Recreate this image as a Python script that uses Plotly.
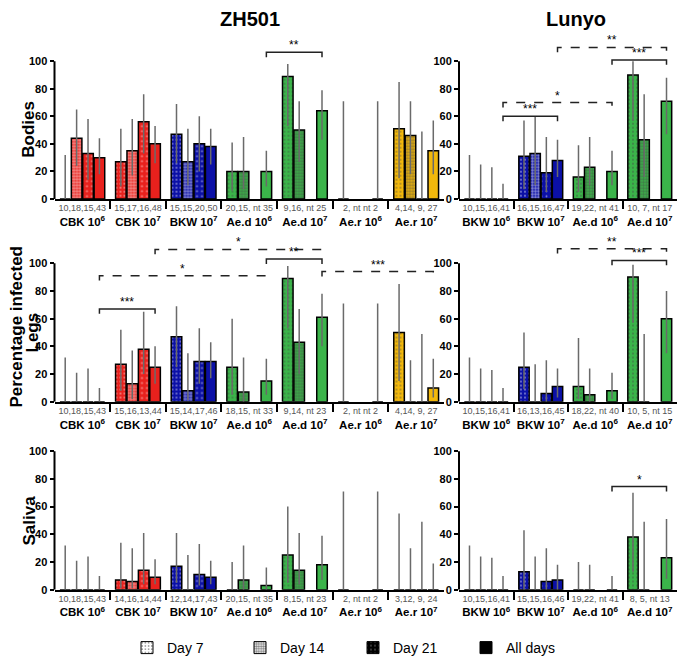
import plotly.graph_objects as go

# ---- data ----
zh_groups = ["CBK 10<sup>6</sup>", "CBK 10<sup>7</sup>", "BKW 10<sup>7</sup>", "Ae.d 10<sup>6</sup>",
             "Ae.d 10<sup>7</sup>", "Ae.r 10<sup>6</sup>", "Ae.r 10<sup>7</sup>"]
lu_groups = ["BKW 10<sup>6</sup>", "BKW 10<sup>7</sup>", "Ae.d 10<sup>6</sup>", "Ae.d 10<sup>7</sup>"]
days = ["Day 7", "Day 14", "Day 21", "All days"]

# rows = Day 7, Day 14, Day 21, All days ; None = not tested
zh_bodies_n = ["10,18,15,43", "15,17,16,48", "15,15,20,50", "20,15, nt 35", "9,16, nt 25", "2, nt nt 2", "4,14, 9, 27"]
zh_bodies = [[0, 27, 47, 20, 89, 0, 51],
             [44, 35, 27, 20, 50, None, 46],
             [33, 56, 40, None, None, None, 0],
             [30, 40, 38, 20, 64, 0, 35]]
zh_bodies_lo = [[0, 9, 26, 6, 53, 0, 15],
                [24, 17, 10, 7, 27, None, 18],
                [14, 33, 20, None, None, None, 0],
                [18, 26, 25, 9, 43, 0, 18]]
zh_bodies_hi = [[32, 51, 69, 41, 98, 71, 85],
                [65, 58, 51, 45, 71, None, 71],
                [58, 76, 60, None, None, None, 49],
                [44, 53, 51, 35, 79, 71, 57]]

lu_bodies_n = ["10,15,16,41", "16,15,16,47", "19,22, nt 41", "10, 7, nt 17"]
lu_bodies = [[0, 31, 16, 90], [0, 33, 23, 43], [0, 19, None, None], [0, 28, 20, 71]]
lu_bodies_lo = [[0, 7, 5, 57], [0, 10, 10, 16], [0, 5, None, None], [0, 16, 10, 47]]
lu_bodies_hi = [[32, 57, 39, 100], [25, 60, 45, 76], [23, 45, None, None], [11, 43, 35, 88]]

zh_legs_n = ["10,18,15,43", "15,16,13,44", "15,14,17,46", "18,15, nt 33", "9,14, nt 23", "2, nt nt 2", "4,14, 9, 27"]
zh_legs = [[0, 27, 47, 25, 89, 0, 50],
           [0, 13, 8, 7, 43, None, 0],
           [0, 38, 29, None, None, None, 0],
           [0, 25, 29, 15, 61, 0, 10]]
zh_legs_lo = [[0, 8, 25, 5, 53, 0, 15],
              [0, 2, 1, 0, 20, None, 0],
              [0, 20, 13, None, None, None, 0],
              [0, 13, 17, 5, 40, 0, 3]]
zh_legs_hi = [[32, 52, 69, 60, 98, 71, 85],
              [21, 37, 35, 32, 67, None, 30],
              [24, 65, 53, None, None, None, 49],
              [10, 40, 43, 31, 78, 71, 31]]

lu_legs_n = ["10,15,16,41", "16,13,16,45", "18,22, nt 40", "10, 5, nt 15"]
lu_legs = [[0, 25, 11, 90], [0, 0, 5, 0], [0, 6, None, None], [0, 11, 8, 60]]
lu_legs_lo = [[0, 9, 2, 57], [0, 0, 0, 0], [0, 0, None, None], [0, 3, 2, 35]]
lu_legs_hi = [[32, 50, 46, 99], [24, 27, 24, 49], [23, 30, None, None], [10, 24, 21, 80]]

zh_saliva_n = ["10,18,15,43", "14,16,14,44", "12,14,17,43", "20,15, nt 35", "8,15, nt 23", "2, nt nt 2", "3,12, 9, 24"]
zh_saliva = [[0, 7, 17, 0, 25, 0, 0],
             [0, 6, 0, 7, 14, None, 0],
             [0, 14, 11, None, None, None, 0],
             [0, 9, 9, 3, 18, 0, 0]]
zh_saliva_lo = [[0, 1, 5, 0, 5, 0, 0],
                [0, 1, 0, 0, 4, None, 0],
                [0, 4, 3, None, None, None, 0],
                [0, 4, 4, 0, 7, 0, 0]]
zh_saliva_hi = [[32, 34, 41, 20, 60, 71, 55],
                [21, 30, 25, 32, 41, None, 30],
                [24, 41, 33, None, None, None, 49],
                [10, 22, 21, 16, 39, 71, 19]]

lu_saliva_n = ["10,15,16,41", "15,15,16,46", "19,22, nt 41", "8, 5, nt 13"]
lu_saliva = [[0, 13, 0, 38], [0, 0, 0, 0], [0, 6, None, None], [0, 7, 0, 23]]
lu_saliva_lo = [[0, 0, 0, 13], [0, 0, 0, 0], [0, 0, None, None], [0, 0, 0, 8]]
lu_saliva_hi = [[32, 43, 20, 70], [24, 24, 18, 49], [23, 30, None, None], [10, 18, 10, 51]]

# significance brackets: panel, from group, to group, height, label, dashed
brackets = [(0, 3, 4, 106.5, "**", False),
            (1, 0, 1, 60, "***", False), (1, 0, 2, 70, "*", True),
            (1, 2, 3, 101, "***", False), (1, 1, 3, 110, "**", True),
            (2, 0, 1, 67, "***", False), (2, 0, 3, 91, "*", True),
            (2, 1, 4, 110, "*", True), (2, 3, 4, 103, "**", False),
            (2, 4, 6, 94, "***", True),
            (3, 1, 3, 110.5, "**", True), (3, 2, 3, 102, "***", False),
            (5, 2, 3, 74.5, "*", False)]

RED, BLUE, GREEN, GOLD = "#e8211d", "#0b10a6", "#3bb44a", "#f2b80c"
zh_colors = [RED, RED, BLUE, GREEN, GREEN, GOLD, GOLD]
lu_colors = [BLUE, BLUE, GREEN, GREEN]

FONT = "Liberation Sans, Arial, sans-serif"

panels = [
    (zh_groups, zh_colors, zh_bodies_n, zh_bodies, zh_bodies_lo, zh_bodies_hi),
    (lu_groups, lu_colors, lu_bodies_n, lu_bodies, lu_bodies_lo, lu_bodies_hi),
    (zh_groups, zh_colors, zh_legs_n, zh_legs, zh_legs_lo, zh_legs_hi),
    (lu_groups, lu_colors, lu_legs_n, lu_legs, lu_legs_lo, lu_legs_hi),
    (zh_groups, zh_colors, zh_saliva_n, zh_saliva, zh_saliva_lo, zh_saliva_hi),
    (lu_groups, lu_colors, lu_saliva_n, lu_saliva, lu_saliva_lo, lu_saliva_hi),
]

# the page body has an 8px margin, so the figure sits at (8, 8) and must fit inside the window
OFF, W, H = 8, 669, 656


def fx(px):
    return (px - OFF) / W


def fy(py):
    return 1 - (py - OFF) / H


x_dom = [[fx(54.5), fx(444)], [fx(459), 1.0]]
y_dom = [[fy(201), fy(34)], [fy(406), fy(238)], [fy(596), fy(428)]]

SLOT = 0.205


def pos(g, i):
    return g + (i - 1.5) * SLOT


def pattern(day, colors):
    if day == 0:
        return dict(shape=".", fgcolor=colors, bgcolor="white", size=4, solidity=0.18)
    if day == 1:
        return dict(shape=".", fgcolor=colors, bgcolor="white", size=3, solidity=0.6)
    if day == 2:
        return dict(shape=".", fgcolor="white", bgcolor=colors, size=5, solidity=0.12)
    return dict(shape="", fgcolor=colors, bgcolor=colors)


fig = go.Figure()
layout = dict(width=W, height=H, margin=dict(l=0, r=0, t=0, b=0),
              plot_bgcolor="white", paper_bgcolor="white", barmode="overlay",
              font=dict(family=FONT, color="black"))
shapes = []
annotations = []

for p, (groups, colors, nlab, vals, lo, hi) in enumerate(panels):
    k = "" if p == 0 else str(p + 1)
    ng = len(groups)
    for d in range(4):
        xs = [pos(g, d) for g in range(ng)]
        up = [None if v is None else h - v for v, h in zip(vals[d], hi[d])]
        dn = [None if v is None else v - l for v, l in zip(vals[d], lo[d])]
        fig.add_trace(go.Bar(
            x=xs, y=vals[d], width=0.19, xaxis="x" + k, yaxis="y" + k,
            showlegend=False, name=days[d],
            marker=dict(color=colors, line=dict(color="black", width=1.5),
                        pattern=pattern(d, colors)),
            error_y=dict(type="data", symmetric=False, array=up, arrayminus=dn,
                         width=0, thickness=1.5, color="#6a6a6a"),
        ))
    ticktext = ["<span style='font-size:9px;color:#555555'>%s</span><br><b>%s</b>" % (n, g)
                for n, g in zip(nlab, groups)]
    layout["xaxis" + k] = dict(
        domain=x_dom[p % 2], anchor="y" + k, range=[-0.5, ng - 0.5],
        showline=True, linewidth=2, linecolor="black", showgrid=False, zeroline=False,
        tickmode="array", tickvals=list(range(ng)), ticktext=ticktext, ticks="",
        ticklabelstandoff=-4,
        tickfont=dict(size=11.5, family=FONT, color="black"),
        minor=dict(tickmode="array", tickvals=[g + 0.5 for g in range(ng - 1)],
                   ticks="outside", ticklen=8, tickwidth=1.5, tickcolor="black"),
    )
    layout["yaxis" + k] = dict(
        domain=y_dom[p // 2], anchor="x" + k, range=[0, 120],
        showline=False, showgrid=False, zeroline=False,
        tickmode="array", tickvals=[0, 20, 40, 60, 80, 100],
        ticks="outside", ticklen=4, tickwidth=1.5, tickcolor="black",
        tickfont=dict(size=11, family=FONT, color="black", weight="bold"),
    )
    shapes.append(dict(type="line", xref="x" + k + " domain", yref="y" + k,
                       x0=0, x1=0, y0=0, y1=100, line=dict(color="black", width=2)))

for p, g0, g1, yb, lab, dashed in brackets:
    k = "" if p == 0 else str(p + 1)
    x0, x1 = pos(g0, 3), pos(g1, 3)
    shapes.append(dict(type="path", xref="x" + k, yref="y" + k,
                       path="M %f,%f L %f,%f L %f,%f L %f,%f" % (x0, yb - 3.5, x0, yb, x1, yb, x1, yb - 3.5),
                       line=dict(color="#222222", width=1.5, dash="dash" if dashed else "solid")))
    annotations.append(dict(xref="x" + k, yref="y" + k, x=(x0 + x1) / 2, y=yb, text=lab,
                            showarrow=False, xanchor="center", yanchor="bottom", yshift=-2,
                            font=dict(size=12, family=FONT, color="black")))

# titles and row labels
for txt, x in [("ZH501", 250), ("Lunyo", 576)]:
    annotations.append(dict(xref="paper", yref="paper", x=fx(x), y=fy(19), text="<b>%s</b>" % txt,
                            showarrow=False, xanchor="center", yanchor="middle",
                            font=dict(size=20, family=FONT, color="black")))
for txt, x, y in [("Bodies", 29, 131), ("Percentage infected", 17, 330), ("Legs", 32, 336), ("Saliva", 29, 526)]:
    annotations.append(dict(xref="paper", yref="paper", x=fx(x), y=fy(y), text="<b>%s</b>" % txt,
                            textangle=-90, showarrow=False, xanchor="center", yanchor="middle",
                            font=dict(size=17, family=FONT, color="black")))

# legend entries (black versions of the day patterns)
for d in range(4):
    fig.add_trace(go.Bar(x=[None], y=[None], name=days[d], showlegend=True,
                         marker=dict(color="black", line=dict(color="black", width=1),
                                     pattern=pattern(d, "black"))))

layout["legend"] = dict(orientation="h", x=fx(353), xanchor="center", y=fy(655), yanchor="middle",
                        font=dict(size=14, family=FONT, color="black"),
                        entrywidth=68, entrywidthmode="pixels")
layout["shapes"] = shapes
layout["annotations"] = annotations
fig.update_layout(**layout)

fig.write_html("out.html")
